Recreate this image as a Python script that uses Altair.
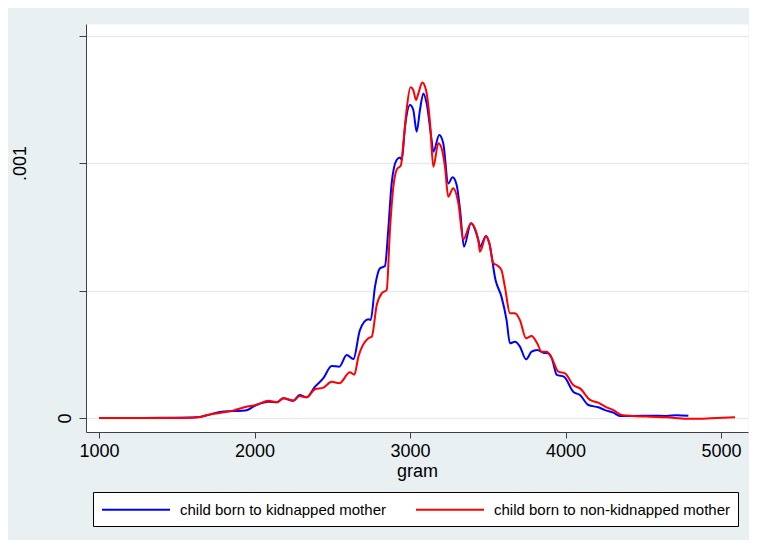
import altair as alt
import pandas as pd

blue_label = "child born to kidnapped mother"
red_label = "child born to non-kidnapped mother"

# (gram, density)
blue_points = [
    (1000, 0.0), (1200, 0.0), (1400, 0.000001), (1600, 0.000002), (1650, 0.000004),
    (1700, 0.000012), (1778, 0.000024), (1862, 0.000027), (1940, 0.000029), (2015, 0.000052),
    (2090, 0.000064), (2145, 0.000062), (2185, 0.000077), (2250, 0.000068), (2290, 0.000090),
    (2335, 0.000081), (2389, 0.000123), (2443, 0.000156), (2496, 0.000204), (2545, 0.000201),
    (2593, 0.000247), (2636, 0.000231), (2678, 0.000345), (2732, 0.000387), (2747, 0.000384),
    (2775, 0.000515), (2807, 0.000587), (2839, 0.000596), (2860, 0.000737), (2882, 0.000920),
    (2914, 0.001012), (2936, 0.001022), (2947, 0.001012), (2968, 0.001142), (3000, 0.001227),
    (3021, 0.001208), (3043, 0.001123), (3064, 0.001208), (3086, 0.001273), (3107, 0.001234),
    (3139, 0.001090), (3150, 0.001044), (3188, 0.001110), (3214, 0.001077), (3246, 0.000920),
    (3274, 0.000944), (3300, 0.000914), (3322, 0.000816), (3347, 0.000672), (3392, 0.000764),
    (3439, 0.000698), (3450, 0.000672), (3489, 0.000714), (3510, 0.000685), (3550, 0.000541),
    (3588, 0.000476), (3621, 0.000384), (3643, 0.000293), (3675, 0.000299), (3707, 0.000280),
    (3746, 0.000230), (3782, 0.000260), (3818, 0.000267), (3858, 0.000256), (3890, 0.000254),
    (3912, 0.000234), (3944, 0.000169), (3990, 0.000162), (4050, 0.000103), (4093, 0.000090),
    (4147, 0.000051), (4211, 0.000042), (4254, 0.000031), (4308, 0.000021), (4350, 0.000008),
    (4436, 0.000008), (4543, 0.000009), (4650, 0.000008), (4714, 0.000011), (4790, 0.000009),
]

red_points = [
    (1000, 0.0), (1200, 0.0), (1400, 0.0), (1540, 0.0), (1650, 0.000004),
    (1700, 0.000012), (1778, 0.000020), (1862, 0.000029), (1940, 0.000043), (2015, 0.000052),
    (2090, 0.000068), (2145, 0.000062), (2185, 0.000077), (2250, 0.000068), (2290, 0.000086),
    (2335, 0.000081), (2389, 0.000113), (2443, 0.000119), (2496, 0.000142), (2545, 0.000136),
    (2614, 0.000179), (2642, 0.000170), (2668, 0.000240), (2732, 0.000313), (2754, 0.000319),
    (2786, 0.000443), (2818, 0.000489), (2850, 0.000502), (2871, 0.000737), (2893, 0.000907),
    (2914, 0.000973), (2942, 0.000992), (2957, 0.001077), (2978, 0.001208), (3003, 0.001297),
    (3021, 0.001286), (3039, 0.001247), (3054, 0.001273), (3079, 0.001316), (3103, 0.001286),
    (3129, 0.001156), (3150, 0.000985), (3182, 0.001077), (3203, 0.001058), (3225, 0.000985),
    (3246, 0.000868), (3278, 0.000901), (3311, 0.000842), (3343, 0.000701), (3392, 0.000764),
    (3439, 0.000698), (3450, 0.000652), (3489, 0.000714), (3510, 0.000685), (3536, 0.000607),
    (3557, 0.000600), (3588, 0.000580), (3610, 0.000515), (3643, 0.000411), (3675, 0.000411),
    (3707, 0.000384), (3746, 0.000313), (3782, 0.000322), (3818, 0.000293), (3846, 0.000260),
    (3878, 0.000260), (3912, 0.000234), (3954, 0.000182), (3997, 0.000175), (4050, 0.000129),
    (4093, 0.000116), (4158, 0.000071), (4211, 0.000060), (4264, 0.000042), (4308, 0.000031),
    (4361, 0.000012), (4436, 0.000008), (4543, 0.000005), (4650, 0.000003), (4778, -0.000003),
    (4865, -0.000003), (4972, 0.0), (5090, 0.000003),
]

x_ticks = [1000, 2000, 3000, 4000, 5000]
y_ticks = [0, 0.0005, 0.001, 0.0015]

rows = []
for label, pts in [(blue_label, blue_points), (red_label, red_points)]:
    for g, d in pts:
        rows.append({"gram": g, "density": d, "group": label})
df = pd.DataFrame(rows)

FONT = "Liberation Sans"
AXIS_COL = "#404040"

chart = alt.Chart(df).mark_line(strokeWidth=2, interpolate="monotone").encode(
    x=alt.X(
        "gram:Q",
        scale=alt.Scale(domain=[916.4, 5173.6], nice=False, zero=False),
        axis=alt.Axis(
            values=x_ticks, title="gram", grid=False, format="d",
            tickSize=6, labelPadding=4, labelFontSize=18, labelFont=FONT,
            labelColor="black", titleFontSize=18, titleFont=FONT,
            titleFontWeight="normal", titleColor="black", titlePadding=2,
            domainColor=AXIS_COL, tickColor=AXIS_COL,
        ),
    ),
    y=alt.Y(
        "density:Q",
        scale=alt.Scale(domain=[-0.0000549, 0.0015451], nice=False, zero=False),
        axis=alt.Axis(
            values=y_ticks, title=None, grid=True,
            gridColor="#e4ecee", gridWidth=1.5,
            labelExpr="datum.value == 0 ? '0' : (abs(datum.value - 0.001) < 1e-9 ? '.001' : '')",
            labelAngle=270, labelAlign="center", labelBaseline="bottom",
            labelPadding={"condition": {"test": "datum.value > 0.0007", "value": 50}, "value": 5},
            tickSize=7, labelFontSize=18, labelFont=FONT, labelColor="black",
            domainColor=AXIS_COL, tickColor=AXIS_COL,
        ),
    ),
    color=alt.Color(
        "group:N",
        scale=alt.Scale(domain=[blue_label, red_label], range=["#0000ff", "#ff0000"]),
        legend=alt.Legend(
            title=None, orient="none", legendX=7, legendY=468,
            direction="horizontal", columns=2,
            symbolType="M-1,0H7", symbolSize=289, symbolStrokeWidth=2,
            labelFontSize=15, labelFont=FONT, labelColor="black",
            labelOffset=60, labelLimit=400, columnPadding=26, padding=8,
            strokeColor="black", fillColor="white",
        ),
    ),
).properties(
    width=662,
    height=408,
    background="#e8f0f2",
    padding={"left": 78, "top": 16, "right": 1, "bottom": 108},
    autosize=alt.AutoSizeParams(type="none"),
).configure_view(
    fill="white", stroke="transparent"
)

chart.save("out.html", embed_options={"renderer": "svg", "actions": False})
